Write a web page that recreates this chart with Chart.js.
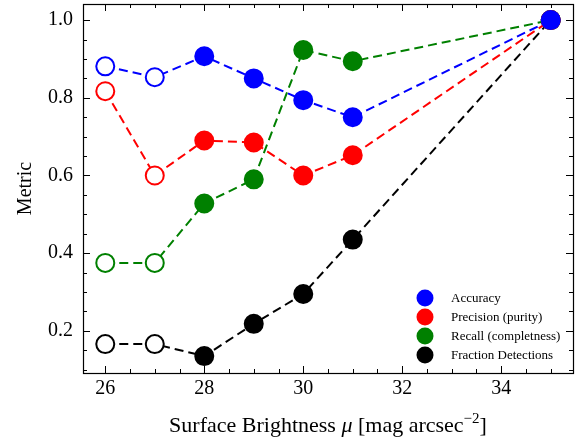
<!DOCTYPE html>
<html>
<head>
<meta charset="utf-8">
<script src="https://cdn.jsdelivr.net/npm/chart.js@4.4.0/dist/chart.umd.min.js"></script>
<style>
    html, body { margin: 0; padding: 0; background: #fff; }
    #wrap { width: 585px; height: 441px; }
</style>
</head>
<body>
<div id="wrap"><canvas id="chart" width="585" height="441"></canvas></div>
<script>
    // surface brightness bins (mag arcsec^-2)
    const mu = [26, 27, 28, 29, 30, 31, 35];

    const accuracy  = [0.881, 0.853, 0.907, 0.850, 0.794, 0.750, 1.0];
    const precision = [0.817, 0.600, 0.690, 0.685, 0.600, 0.652, 1.0];
    const recall    = [0.375, 0.375, 0.528, 0.590, 0.923, 0.894, 1.0];
    const fraction  = [0.166, 0.166, 0.135, 0.218, 0.295, 0.435, 1.0];

    // first two bins are drawn as open markers
    const openBins = [true, true, false, false, false, false, false];

    const xTicks = [26, 28, 30, 32, 34];
    const yTicks = [0.2, 0.4, 0.6, 0.8, 1.0];

    const serif = "'Liberation Serif', 'DejaVu Serif', serif";

    function series(label, values, color) {
        return {
            label: label,
            data: mu.map((x, i) => ({ x: x, y: values[i] })),
            borderColor: color,
            borderWidth: 2,
            borderDash: [9, 5],
            pointRadius: 9,
            pointHoverRadius: 9,
            pointBorderWidth: 2,
            pointBorderColor: color,
            pointBackgroundColor: openBins.map(o => o ? '#ffffff' : color),
            fill: false,
            tension: 0
        };
    }

    // inward major/minor ticks on all four sides
    const innerTicks = {
        id: 'innerTicks',
        afterDraw(chart) {
            const { ctx, chartArea: a, scales } = chart;
            ctx.save();
            ctx.strokeStyle = '#000';
            ctx.lineWidth = 1;
            ctx.beginPath();
            for (let v = 25.5; v <= 35.5; v += 0.5) {
                const px = Math.round(scales.x.getPixelForValue(v)) + 0.5;
                if (px < a.left || px > a.right) continue;
                const len = (Math.abs(v % 2) < 1e-6) ? 7 : 4;
                ctx.moveTo(px, a.bottom); ctx.lineTo(px, a.bottom - len);
                ctx.moveTo(px, a.top); ctx.lineTo(px, a.top + len);
            }
            for (let k = 2; k <= 21; k++) {
                const v = k * 0.05;
                const py = Math.round(scales.y.getPixelForValue(v)) + 0.5;
                if (py < a.top || py > a.bottom) continue;
                const len = (k % 4 === 0) ? 7 : 4;
                ctx.moveTo(a.left, py); ctx.lineTo(a.left + len, py);
                ctx.moveTo(a.right, py); ctx.lineTo(a.right - len, py);
            }
            ctx.stroke();
            ctx.lineWidth = 1.2;
            ctx.strokeRect(a.left + 0.5, a.top + 0.5, a.right - a.left, a.bottom - a.top);
            ctx.restore();
        }
    };

    // legend inside the axes, lower right, plus axis titles with math
    const annotations = {
        id: 'annotations',
        afterDraw(chart) {
            const { ctx, chartArea: a } = chart;
            ctx.save();
            // legend
            const x0 = 425, y0 = 298, dy = 19;
            ctx.font = '13px ' + serif;
            ctx.textBaseline = 'middle';
            ctx.textAlign = 'left';
            chart.data.datasets.forEach((ds, i) => {
                const y = y0 + i * dy;
                ctx.beginPath();
                ctx.arc(x0, y, 8.5, 0, Math.PI * 2);
                ctx.fillStyle = ds.borderColor;
                ctx.fill();
                ctx.fillStyle = '#000';
                ctx.fillText(ds.label, 451, y + 1);
            });

            // y title
            ctx.save();
            ctx.translate(26, (a.top + a.bottom) / 2);
            ctx.rotate(-Math.PI / 2);
            ctx.textAlign = 'center';
            ctx.textBaseline = 'middle';
            ctx.font = '20px ' + serif;
            ctx.fillText('Metric', 0, 0);
            ctx.restore();

            // x title: Surface Brightness μ [mag arcsec^-2]
            const parts = [
                { t: 'Surface Brightness ', f: '22px ' + serif, dy: 0 },
                { t: '\u03bc', f: 'italic 22px ' + serif, dy: 0 },
                { t: ' [mag arcsec', f: '22px ' + serif, dy: 0 },
                { t: '\u22122', f: '15px ' + serif, dy: -9 },
                { t: ']', f: '22px ' + serif, dy: 0 }
            ];
            let total = 0;
            parts.forEach(p => { ctx.font = p.f; p.w = ctx.measureText(p.t).width; total += p.w; });
            let x = (a.left + a.right) / 2 - total / 2;
            const yb = 432;
            ctx.textAlign = 'left';
            ctx.textBaseline = 'alphabetic';
            parts.forEach(p => {
                ctx.font = p.f;
                ctx.fillText(p.t, x, yb + p.dy);
                x += p.w;
            });
            ctx.restore();
        }
    };

    new Chart(document.getElementById('chart'), {
        type: 'line',
        data: {
            datasets: [
                series('Accuracy', accuracy, '#0000ff'),
                series('Precision (purity)', precision, '#ff0000'),
                series('Recall (completness)', recall, '#008000'),
                series('Fraction Detections', fraction, '#000000')
            ]
        },
        options: {
            responsive: false,
            animation: false,
            events: [],
            layout: { autoPadding: false, padding: { top: 4, right: 12, left: 0, bottom: 0 } },
            plugins: {
                legend: { display: false },
                tooltip: { enabled: false }
            },
            scales: {
                x: {
                    type: 'linear',
                    min: 25.55,
                    max: 35.45,
                    grid: { display: false, drawTicks: false },
                    border: { display: false },
                    afterBuildTicks: s => { s.ticks = xTicks.map(v => ({ value: v })); },
                    afterFit: s => { s.height = 68; s.paddingLeft = 0; s.paddingRight = 0; },
                    ticks: {
                        color: '#000',
                        padding: 4,
                        maxRotation: 0,
                        font: { family: serif, size: 20 },
                        callback: v => String(v)
                    }
                },
                y: {
                    min: 0.0915,
                    max: 1.0415,
                    grid: { display: false, drawTicks: false },
                    border: { display: false },
                    afterBuildTicks: s => { s.ticks = yTicks.map(v => ({ value: v })); },
                    afterFit: s => { s.width = 83; s.paddingTop = 0; s.paddingBottom = 0; },
                    ticks: {
                        color: '#000',
                        padding: 10,
                        font: { family: serif, size: 20 },
                        callback: v => v.toFixed(1)
                    }
                }
            }
        },
        plugins: [innerTicks, annotations]
    });
</script>
</body>
</html>
